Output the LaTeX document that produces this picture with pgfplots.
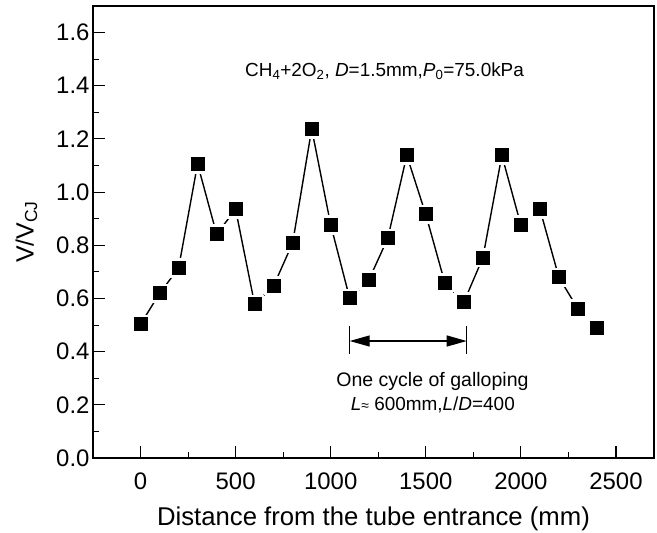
\documentclass[border=0pt]{standalone}
\usepackage{fontspec}
\setmainfont{Liberation Sans}
\usepackage{pgfplots}
\pgfplotsset{compat=1.18}
\usetikzlibrary{arrows.meta,calc}

\begin{document}
\begin{tikzpicture}
\begin{axis}[
 scale only axis, width=561bp, height=452bp,
 xmin=-250, xmax=2700, ymin=0, ymax=1.7,
 xtick={0,500,1000,1500,2000,2500}, minor x tick num=1,
 ytick={0,0.2,0.4,0.6,0.8,1.0,1.2,1.4,1.6}, minor y tick num=1,
 xtick pos=bottom, ytick pos=left,
 tick align=inside,
 major tick length=12bp, minor tick length=6bp,
 axis line style={line width=1.3bp},
 every tick/.style={line width=1.1bp, black},
 /pgf/number format/assume math mode=true,
 yticklabel style={/pgf/number format/.cd, fixed, fixed zerofill, precision=1},
 xticklabel style={yshift=-11bp, /pgf/number format/.cd, 1000 sep={}},
 ticklabel style={font=\fontsize{24}{28}\selectfont},
 xlabel={Distance from the tube entrance (mm)},
 ylabel={V/V\textsubscript{CJ}},
 xlabel style={font=\fontsize{25.8}{30}\selectfont},
 ylabel style={font=\fontsize{25}{30}\selectfont},
 xlabel shift=11bp, ylabel shift=12bp,
 clip=false,
]
\addplot[black, line width=1.4bp, mark=square*, mark size=8.35bp,
  mark options={fill=black, draw=white, line width=2.7bp}] coordinates {
(0,0.503) (100,0.619) (200,0.714) (300,1.106) (400,0.842) (500,0.935)
(600,0.578) (700,0.648) (800,0.809) (900,1.238) (1000,0.877) (1100,0.600)
(1200,0.669) (1300,0.826) (1400,1.138) (1500,0.916) (1600,0.659) (1700,0.586)
(1800,0.753) (1900,1.138) (2000,0.876) (2100,0.936) (2200,0.679) (2300,0.561)
(2400,0.489)
};
\draw[line width=1.3bp, {Triangle[length=20bp,width=11bp]}-{Triangle[length=20bp,width=11bp]}]
  (axis cs:1100,0.44) -- (axis cs:1715,0.44);
\draw[line width=1.3bp] (axis cs:1100,0.391) -- (axis cs:1100,0.496);
\draw[line width=1.3bp] (axis cs:1715,0.391) -- (axis cs:1715,0.496);
\node[font=\fontsize{19}{22}\selectfont] at (axis cs:1283,1.455)
  {CH\textsubscript{4}+2O\textsubscript{2}, \textit{D}=1.5mm,\textit{P}\textsubscript{0}=75.0kPa};
\node[font=\fontsize{19.6}{22}\selectfont] at (axis cs:1535,0.289) {One cycle of galloping};
\node[font=\fontsize{19}{22}\selectfont] at (axis cs:1537,0.200) {\textit{L}{\fontsize{14}{16}\selectfont≈} 600mm,\textit{L}/\textit{D}=400};
\coordinate (sw) at (rel axis cs:0,0);
\coordinate (ne) at (rel axis cs:1,1);
\end{axis}
\pgfresetboundingbox
\path ($(sw)+(-93bp,-75bp)$) rectangle ($(ne)+(3bp,6bp)$);
\end{tikzpicture}
\end{document}
